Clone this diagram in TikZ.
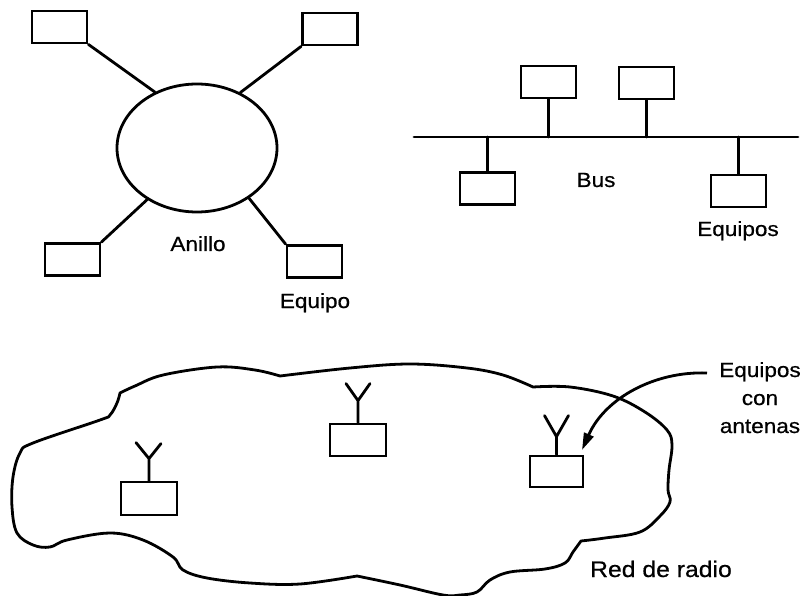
\documentclass[tikz,border=0pt]{standalone}
\usepackage{fontspec}
\setmainfont{Liberation Sans}[FakeStretch=1.1,FakeBold=0.6]
\usetikzlibrary{shapes.geometric,arrows.meta}

\tikzset{
  wire/.style={line width=2.8pt, line cap=round, line join=round},
  host/.style={draw, line width=2.8pt, rectangle, minimum width=55pt, minimum height=32pt, inner sep=0pt},
  lbl/.style={font=\fontsize{20.5}{28}\selectfont, inner sep=0pt, anchor=base},
  biglbl/.style={font=\fontsize{22.5}{28}\selectfont, inner sep=0pt, anchor=base},
  pointer/.style={line width=2.8pt, -{Triangle[length=17pt,width=10pt]}},
}

\begin{document}
\begin{tikzpicture}[x=1pt,y=-1pt]
\useasboundingbox (0,0) rectangle (806,596);

% ---------- ring topology ----------
\node[draw, line width=2.8pt, ellipse, minimum width=160pt, minimum height=128pt, inner sep=0pt] (ring) at (197,148) {};
\node[host] (rTL) at (59.5,27) {};
\node[host] (rTR) at (330,29) {};
\node[host] (rBL) at (72.5,259.5) {};
\node[host] (rBR) at (314.5,261.5) {};
\draw[wire] (rTL.south east) -- (ring.127);
\draw[wire] (rTR.south west) -- (ring.52);
\draw[wire] (rBL.north east) -- (ring.226);
\draw[wire] (rBR.north west) -- (ring.316);
\node[lbl] (lblRing) at (198,251) {Anillo};
\node[lbl] (lblHost) at (315,308) {Equipo};

% ---------- bus topology ----------
\coordinate (busL) at (414,137);
\coordinate (busR) at (798,137);
\draw[wire] (busL) -- (busR);
\node[host] (bT1) at (548.5,82) {};
\node[host] (bT2) at (646.5,83) {};
\node[host] (bB1) at (487.5,188.5) {};
\node[host] (bB2) at (738.5,191) {};
\draw[wire] (bT1.south) -- (bT1.south |- busL);
\draw[wire] (bT2.south) -- (bT2.south |- busL);
\draw[wire] (bB1.north) -- (bB1.north |- busL);
\draw[wire] (bB2.north) -- (bB2.north |- busL);
\node[lbl] (lblBus) at (596,187) {Bus};
\node[lbl] (lblHosts) at (738,236) {Equipos};

% ---------- radio network ----------
\draw[wire, line join=round]
  plot[smooth, tension=0.6] coordinates {(120,393) (135,386) (163,375) (217,367) (255,370) (280,376)}
  -- plot[smooth, tension=0.6] coordinates {(280,376) (350,368) (410,364) (467,368) (503,375) (533,387)}
  -- plot[smooth, tension=0.6] coordinates {(533,387) (570,387) (613,396) (645,412) (667,430) (672,445) (669,470) (668,490) (670,502) (660,516) (640,532) (605,538) (581,541)}
  -- plot[smooth, tension=0.6] coordinates {(581,541) (573,552) (565,563) (545,569) (510,572) (490,580) (477,592) (460,595) (443,595) (400,585) (357,576)}
  -- plot[smooth, tension=0.6] coordinates {(357,576) (300,584) (250,583) (207,578) (183,570) (173,557) (143,540) (110,533) (67,540) (50,547) (33,545) (17,533) (12,507) (13,477) (20,453) (33,443) (100,420) (110,415) (117,403) (120,393)}
  -- cycle;

\node[host, minimum width=56pt, minimum height=33pt] (a1) at (149,498.5) {};
\node[host, minimum width=56pt, minimum height=32pt] (a2) at (358,440) {};
\node[host, minimum width=53pt, minimum height=31pt] (a3) at (556.5,471.5) {};
\draw[wire] (a1.north) -- ++(0,-22) coordinate (f1) -- ++(-13,-16) (f1) -- ++(12,-15);
\draw[wire] (a2.north) -- ++(0,-22) coordinate (f2) -- ++(-12,-17) (f2) -- ++(12,-17);
\draw[wire] (a3.north) -- ++(0,-18) coordinate (f3) -- ++(-12,-21) (f3) -- ++(12,-21);

\node[lbl, align=center] (lblAnt) at (760,433) {Equipos\\con\\antenas};
\coordinate (arrTail) at (707,373);
\coordinate (arrTip) at (582,450);
\draw[pointer] (arrTail) .. controls (655,371) and (605,398) .. (arrTip);

\node[biglbl] (lblRadio) at (661,577) {Red de radio};
\end{tikzpicture}
\end{document}
